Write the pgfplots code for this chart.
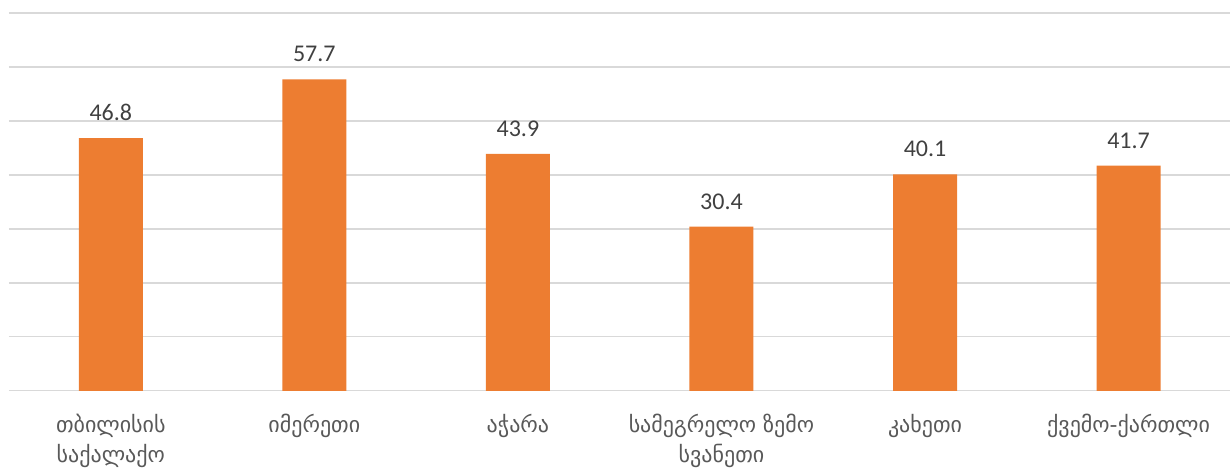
\documentclass[border=0pt]{standalone}
\usepackage{pgfplots}
\pgfplotsset{compat=1.18}
\usepackage{fontspec}
\setmainfont{Carlito}
\newfontfamily\geo{DejaVu Sans}
\usetikzlibrary{calc}
\definecolor{barorange}{HTML}{ED7D31}
\definecolor{gridgray}{HTML}{D9D9D9}
\definecolor{lbl}{HTML}{595959}
\definecolor{num}{HTML}{404040}
\begin{document}
\begin{tikzpicture}
\begin{axis}[
  scale only axis, width=1222pt, height=378pt,
  xmin=-0.5, xmax=5.5, ymin=0, ymax=70,
  ytick={0,10,...,70}, yticklabels={},
  ymajorgrids, grid style={gridgray, line width=1.3pt},
  major tick length=0pt,
  axis line style={draw=none},
  xtick={0,...,5},
  xticklabels={{თბილისის\\საქალაქო},{იმერეთი},{აჭარა},{სამეგრელო ზემო\\სვანეთი},{კახეთი},{ქვემო-ქართლი}},
  xticklabel style={align=center, font=\geo\fontsize{22}{30}\selectfont, text=lbl, anchor=north, yshift=-20pt},
  ybar, bar width=64pt,
  nodes near coords,
  every node near coord/.append style={font=\fontsize{24}{26}\selectfont, text=num, inner sep=0pt, yshift=17pt, /pgf/number format/fixed, /pgf/number format/fixed zerofill, /pgf/number format/precision=1, /pgf/number format/assume math mode=true},
]
\addplot[fill=barorange, draw=none] coordinates {(0,46.8) (1,57.7) (2,43.9) (3,30.4) (4,40.1) (5,41.7)};
\end{axis}
\path ($(current axis.south west)+(-9pt,-77pt)$) rectangle ($(current axis.north east)+(0pt,13pt)$);
\end{tikzpicture}
\end{document}
